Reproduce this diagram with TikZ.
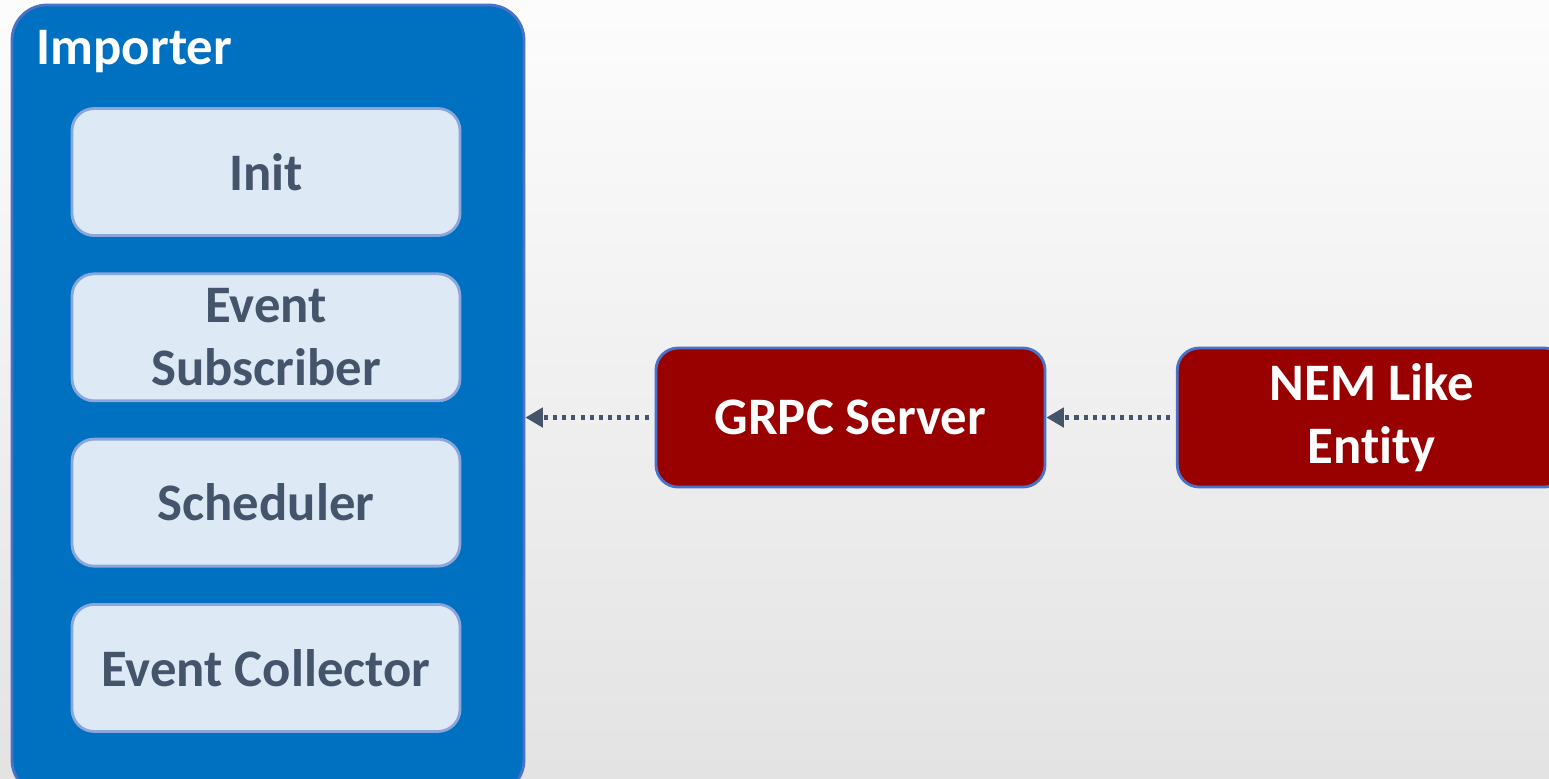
\documentclass[tikz,border=0pt]{standalone}
\usepackage{fontspec}
\setmainfont{Carlito}[Ligatures=NoCommon]
\usepackage{tikz}
\usetikzlibrary{arrows.meta, calc, positioning}
\usepackage{xcolor}
\definecolor{impblue}{HTML}{0070C0}
\definecolor{edgeblue}{HTML}{4A72C8}
\definecolor{cellfill}{HTML}{DEE9F6}
\definecolor{celledge}{HTML}{8AA6DC}
\definecolor{slate}{HTML}{44546A}
\definecolor{darkred}{HTML}{990000}

\begin{document}
\begin{tikzpicture}[
    font=\fontsize{15}{18}\selectfont\bfseries,
    container/.style={draw=edgeblue, line width=0.8pt, fill=impblue, rounded corners=0.35cm,
        minimum width=5.12cm, minimum height=7.9cm},
    cell/.style={draw=celledge, line width=0.8pt, fill=cellfill, rounded corners=0.22cm,
        minimum width=3.88cm, minimum height=1.27cm, text=slate, align=center, inner sep=0pt},
    server/.style={draw=edgeblue, line width=0.8pt, fill=darkred, rounded corners=0.22cm,
        minimum width=3.89cm, minimum height=1.39cm, text=white, align=center, inner sep=0pt},
    flow/.style={slate, line width=1.15pt, dash pattern=on 1.15pt off 1.45pt,
        -{Triangle[length=5pt, width=5.5pt]}}
]
    % background
    \useasboundingbox (0,0) rectangle (15.49,-7.78);
    \shade[top color=white!98!gray, bottom color=gray!22] (0,0) rectangle (15.49,-7.78);

    % Importer
    \node[container] (importer) at (2.68,-4.00) {};
    \node[anchor=base west, text=white, inner sep=0pt] (imptitle) at (0.36,-0.64) {Importer};
    \node[cell] (init) at (2.66,-1.72) {Init};
    \node[cell, below=0.355 of init] (subscriber) {Event\\Subscriber};
    \node[cell, below=0.355 of subscriber] (scheduler) {Scheduler};
    \node[cell, below=0.355 of scheduler] (collector) {Event Collector};

    % servers
    \node[server] (grpc) at (8.505,-4.175) {GRPC Server};
    \node[server, right=1.295 of grpc] (nem) {NEM Like\\Entity};

    % connectors
    \draw[flow] ($(grpc.west)+(-0.06,0)$) -- (grpc.west -| importer.east);
    \draw[flow] ($(nem.west)+(-0.06,0)$) -- (grpc.east);
\end{tikzpicture}
\end{document}
